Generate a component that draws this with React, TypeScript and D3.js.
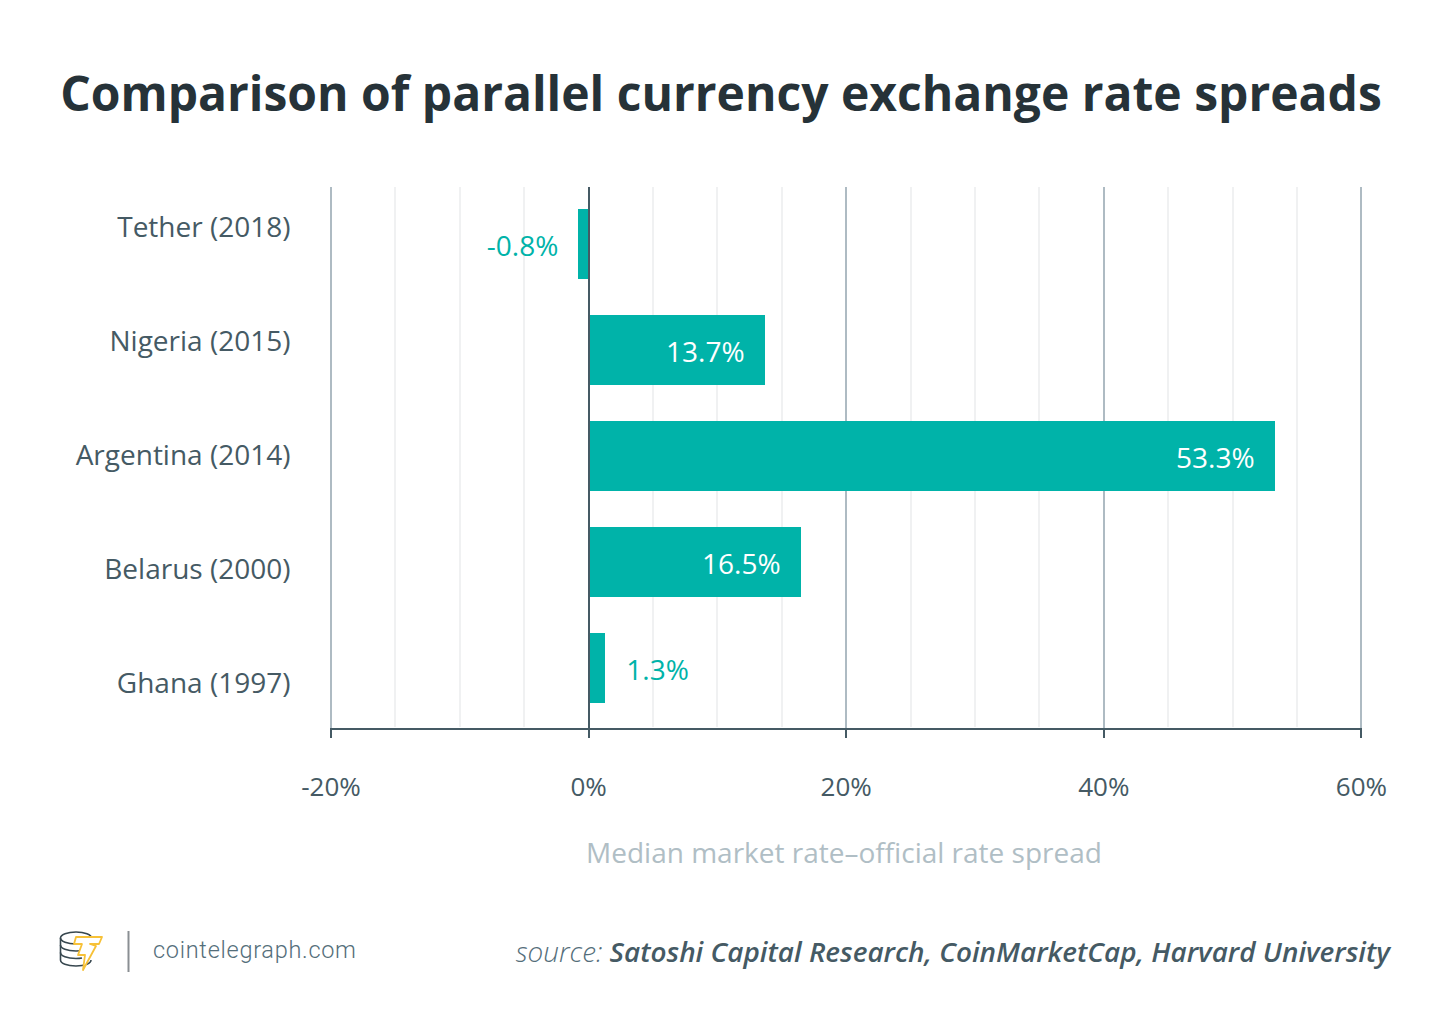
import React from 'react';
import * as d3 from 'd3';

const categories = ['Tether (2018)', 'Nigeria (2015)', 'Argentina (2014)', 'Belarus (2000)', 'Ghana (1997)'];
const values = [-0.8, 13.7, 53.3, 16.5, 1.3];
const valueLabels = ['-0.8%', '13.7%', '53.3%', '16.5%', '1.3%'];
const majorTicks = [-20, 0, 20, 40, 60];
const minorTicks = [-15, -10, -5, 5, 10, 15, 25, 30, 35, 45, 50, 55];

const WIDTH = 1450;
const HEIGHT = 1032;
const FONT = '"Open Sans", sans-serif';
const TEAL = '#00b3a9';
const DARK = '#455a64';

const App: React.FC = () => {
  const x = d3.scaleLinear().domain([-20, 60]).range([331, 1361.4]);
  const px = (t: number) => Math.round(x(t));
  const y = d3.scaleBand<string>().domain(categories).range([209, 703]).paddingInner(36 / 106).paddingOuter(0);
  // the row labels sit on their own spacing, not centred on the bars
  const labelY = d3.scalePoint<string>().domain(categories).range([227, 683]);

  return (
    <svg
      width={WIDTH}
      height={HEIGHT}
      style={{ position: 'absolute', left: 0, top: 0, background: '#fff', fontFamily: FONT }}
    >
      <text x={721} y={111} textAnchor="middle" fontSize={48} fontWeight={700} fill="#263238">
        Comparison of parallel currency exchange rate spreads
      </text>

      {minorTicks.map(t => (
        <line key={t} x1={px(t)} x2={px(t)} y1={187} y2={727} stroke="#f0f1f2" strokeWidth={2} />
      ))}
      {majorTicks.filter(t => t !== 0).map(t => (
        <line key={t} x1={px(t)} x2={px(t)} y1={187} y2={729} stroke="#aebbc3" strokeWidth={2} />
      ))}

      {categories.map((c, i) => (
        <rect
          key={c}
          x={px(Math.min(0, values[i]))}
          y={y(c)}
          width={Math.abs(px(values[i]) - px(0))}
          height={y.bandwidth()}
          fill={TEAL}
        />
      ))}

      <line x1={px(0)} x2={px(0)} y1={187} y2={729} stroke={DARK} strokeWidth={2} />
      <line x1={px(-20)} x2={px(60)} y1={729} y2={729} stroke={DARK} strokeWidth={2} />
      {majorTicks.map(t => (
        <g key={t}>
          <line x1={px(t)} x2={px(t)} y1={728} y2={738} stroke={DARK} strokeWidth={2} />
          <text x={x(t)} y={796} textAnchor="middle" fontSize={26} fill={DARK}>
            {t}%
          </text>
        </g>
      ))}

      {categories.map(c => (
        <text key={c} x={290.5} y={labelY(c)!} dy="0.36em" textAnchor="end" fontSize={28} fill={DARK}>
          {c}
        </text>
      ))}

      {categories.map((c, i) => {
        const v = values[i];
        const inside = v > 5;
        const cy = y(c)! + y.bandwidth() / 2 + 1.5;
        const lx = inside ? x(v) - 20.5 : v < 0 ? x(v) - 20 : x(v) + 21;
        return (
          <text
            key={c}
            x={lx}
            y={cy}
            dy="0.36em"
            textAnchor={inside || v < 0 ? 'end' : 'start'}
            fontSize={28}
            fill={inside ? '#fff' : TEAL}
          >
            {valueLabels[i]}
          </text>
        );
      })}

      <text x={844} y={863} textAnchor="middle" fontSize={28} fill="#b0bec5">
        Median market rate–official rate spread
      </text>

      <g fill="none" stroke="#37474f" strokeWidth={1.6}>
        <ellipse cx={76} cy={938} rx={15.5} ry={6} />
        <path d="M60.500 938v22c0 3.500 6.500 6 15.500 6s15-2.500 15-6" />
        <path d="M60.500 945c0 3.500 6.500 6 15.500 6 3 0 6-.3 8-1" />
        <path d="M60.500 952.500c0 3.500 6.500 6 15.500 6 2 0 4-.1 6-.5" />
      </g>
      <path
        d="M76 937H102L99 944H90L96 946L83 970L85 955H78L82 944H74Z"
        fill="#fff"
        stroke="#f7c137"
        strokeWidth={1.8}
        strokeLinejoin="round"
      />
      <line x1={128.500} x2={128.500} y1={931} y2={972} stroke="#8a8f93" strokeWidth={2} />
      <text x={153} y={958} fontFamily="Roboto, sans-serif" fontWeight={300} fontSize={23.500} fill="#546e7a" letterSpacing={0.72}>
        cointelegraph.com
      </text>

      <text x={1390} y={962} textAnchor="end" fontSize={27.9} fontStyle="italic" fill="#546e7a">
        <tspan fontWeight={300}>source: </tspan>
        <tspan fontWeight={600} fill={DARK}>Satoshi Capital Research, CoinMarketCap, Harvard University</tspan>
      </text>
    </svg>
  );
};

export default App;
